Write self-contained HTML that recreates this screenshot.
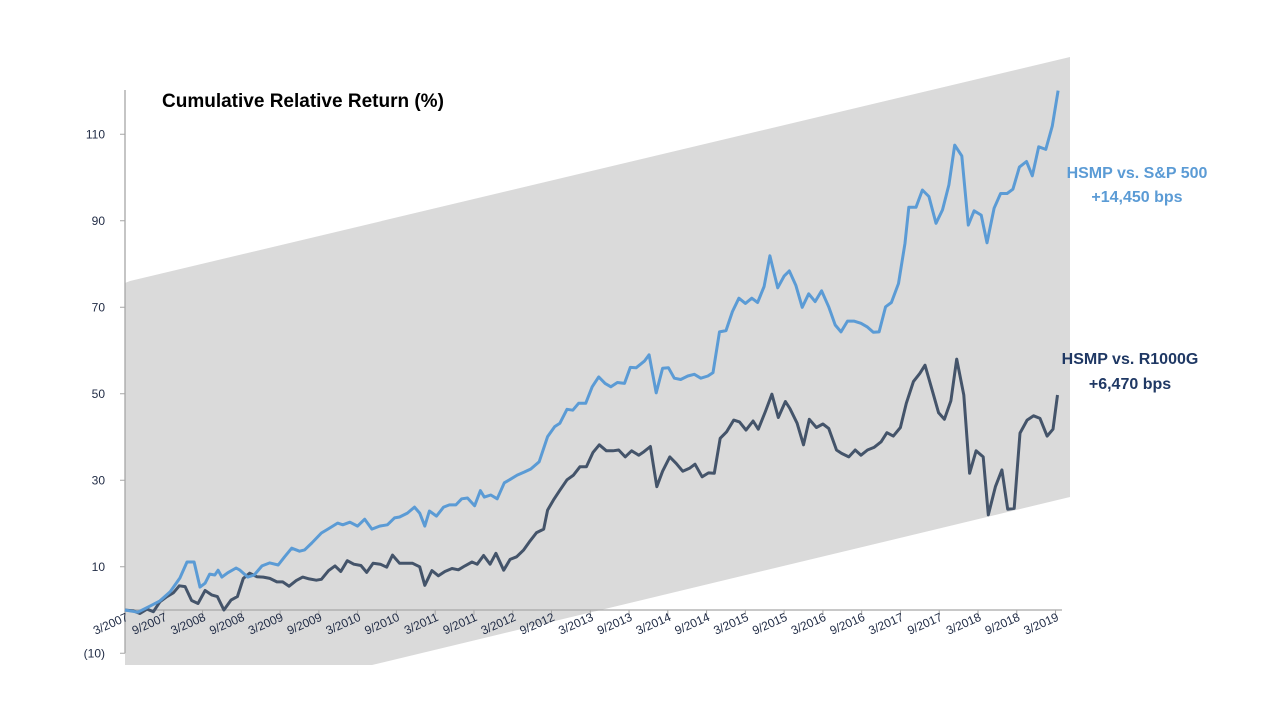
<!DOCTYPE html>
<html><head><meta charset="utf-8"><style>
html,body{margin:0;padding:0;background:#fff;width:1280px;height:720px;overflow:hidden}
svg text{font-family:"Liberation Sans",sans-serif}
</style></head><body>
<svg id="chart" width="1280" height="720" viewBox="0 0 1280 720" xmlns="http://www.w3.org/2000/svg">
<polygon points="130,281 1070,57 1070,497 372,665 125,665 125,283" fill="#dadada"/>
<g id="axes"></g>
<g id="series"></g>
<text x="162" y="107" font-size="19" font-weight="bold" fill="#000">Cumulative Relative Return (%)</text>
<text x="1137" y="178" font-size="16" font-weight="bold" fill="#5b9bd5" text-anchor="middle">HSMP vs. S&amp;P 500</text>
<text x="1137" y="202" font-size="16" font-weight="bold" fill="#5b9bd5" text-anchor="middle">+14,450 bps</text>
<text x="1130" y="364" font-size="16" font-weight="bold" fill="#1f3864" text-anchor="middle">HSMP vs. R1000G</text>
<text x="1130" y="389" font-size="16" font-weight="bold" fill="#1f3864" text-anchor="middle">+6,470 bps</text>
</svg>
<script>
const yTicks = [110, 90, 70, 50, 30, 10, -10];
const xTickLabels = ["3/2007","9/2007","3/2008","9/2008","3/2009","9/2009","3/2010","9/2010","3/2011","9/2011","3/2012","9/2012","3/2013","9/2013","3/2014","9/2014","3/2015","9/2015","3/2016","9/2016","3/2017","9/2017","3/2018","9/2018","3/2019"];
const spMonths = [0,2,4,5.4,7,8.5,9.6,10.7,11.6,12.4,13.1,13.9,14.4,15,15.9,17.2,17.8,19,20,21.2,22.4,23.7,24.7,25.8,27,27.8,28.9,30.4,31.4,32.9,33.7,34.8,36,37.1,38.2,39.4,40.6,41.7,42.5,43.7,44.8,45.6,46.4,47.1,48.2,49.3,50.2,51.2,52.1,53,54.1,55,55.6,56.6,57.6,58.7,59.5,60.7,61.8,62.8,64.1,65.4,66.5,67.3,68.4,69.3,70.2,71.3,72.3,73.3,74.3,75.2,76.2,77.3,78.2,79.1,80.4,81.1,82.2,83.2,84.1,85,86,87.1,88.1,89.1,90.2,91,92,93,94,95,96,97,97.9,98.9,99.8,101,102,102.8,103.8,104.8,105.8,106.8,107.8,108.9,109.9,110.8,111.8,112.8,113.9,114.9,115.8,116.7,117.7,118.6,119.7,120.7,121.3,122.4,123.4,124.4,125.5,126.5,127.5,128.4,129.5,130.5,131.4,132.5,133.4,134.5,135.5,136.5,137.4,138.4,139.5,140.4,141.4,142.5,143.5,144.4,145];
const spValues = [0,-0.5,1,2.1,4.2,7.4,11.1,11.1,5.3,6.2,8.3,8.1,9.2,7.6,8.6,9.7,9.2,7.6,8.1,10.2,10.9,10.4,12.3,14.3,13.6,13.9,15.5,17.8,18.7,20.1,19.7,20.3,19.4,21,18.7,19.4,19.7,21.3,21.5,22.4,23.8,22.4,19.4,22.9,21.7,23.8,24.3,24.3,25.7,25.9,24.1,27.6,26.1,26.6,25.7,29.4,30.1,31.2,31.9,32.6,34.3,40.1,42.4,43.2,46.4,46.2,47.8,47.8,51.6,53.9,52.4,51.6,52.6,52.4,56.1,56,57.6,59,50.2,55.9,56,53.6,53.3,54.1,54.5,53.6,54.1,54.9,64.3,64.6,69,72.1,70.9,72.1,71.1,74.8,81.9,74.5,77.2,78.4,75.1,70,73.1,71.3,73.8,70.1,65.9,64.3,66.8,66.8,66.3,65.4,64.2,64.3,70.1,71.1,75.5,84.8,93.1,93.1,97.1,95.6,89.4,92.5,98.3,107.5,105,89,92.3,91.3,84.9,92.9,96.3,96.3,97.3,102.4,103.7,100.4,107.1,106.5,111.9,120.1];
const rgMonths = [0,1.3,2.3,3.4,4.4,5.4,6.5,7.5,8.4,9.3,10.3,11.3,12.4,13.4,14.3,15.3,16.4,17.4,18.3,19.3,20.4,21.4,22.4,23.5,24.4,25.4,26.5,27.5,28.5,29.6,30.4,31.5,32.5,33.4,34.4,35.4,36.5,37.4,38.4,39.5,40.5,41.4,42.5,43.5,44.5,45.6,46.4,47.5,48.5,49.5,50.6,51.6,52.6,53.7,54.5,55.5,56.5,57.4,58.6,59.6,60.6,61.7,62.7,63.7,64.8,65.4,66.3,67.3,68.4,69.4,70.4,71.4,72.4,73.4,74.5,75.5,76.4,77.4,78.4,79.5,80.3,81.3,82.3,83.2,84.3,85.3,86.3,87.4,88.2,89.3,90.3,91.2,92.1,93.1,94.2,95.1,96.1,97.2,98,99.1,100.1,101.1,102.2,102.9,104,105,105.9,107,108,108.9,110.1,110.9,112,113,113.9,114.9,115.9,117,117.9,118.9,120,120.9,122,123,123.8,124.9,125.9,126.8,127.8,128.7,129.8,130.7,131.7,132.8,133.6,134.7,135.7,136.6,137.6,138.5,139.6,140.6,141.6,142.7,143.6,144.3];
const rgValues = [0,-0.2,-0.8,0.2,-0.4,1.9,3.1,4,5.6,5.4,2.2,1.5,4.5,3.5,3.1,0,2.3,3.1,7.3,8.5,7.7,7.6,7.3,6.5,6.5,5.5,6.8,7.6,7.2,6.9,7.1,9.1,10.2,8.9,11.4,10.6,10.3,8.7,10.8,10.6,9.9,12.7,10.8,10.8,10.8,10,5.7,9.1,7.9,8.9,9.6,9.3,10.2,11.1,10.6,12.6,10.6,13.1,9.2,11.7,12.3,13.9,16,17.9,18.7,23.1,25.4,27.7,30.1,31.2,33.1,33.1,36.4,38.2,36.8,36.8,37,35.4,36.8,35.8,36.6,37.8,28.5,32.1,35.4,33.9,32.1,32.8,33.7,30.8,31.7,31.6,39.7,41.2,43.9,43.5,41.6,43.7,41.8,45.9,49.9,44.5,48.2,46.6,43.2,38.2,44.1,42.2,43,42,37,36.2,35.4,37,35.8,37,37.6,38.9,41,40.2,42.2,47.8,52.8,54.7,56.6,50.9,45.6,44.1,48.4,58,49.7,31.6,36.8,35.4,22,28.5,32.4,23.3,23.5,40.9,43.9,44.9,44.3,40.2,41.8,49.7];

const NS = "http://www.w3.org/2000/svg";
const X0 = 125, XPM = 937/145, Y0 = 610, YPU = 4.325;
function xs(m){ return X0 + m*XPM; }
function ys(v){ return Y0 - v*YPU; }
function mk(tag, attrs, parent){ const e=document.createElementNS(NS,tag); for(const k in attrs) e.setAttribute(k,attrs[k]); parent.appendChild(e); return e; }
const axes = document.getElementById('axes');
const series = document.getElementById('series');

const yAxis = mk('line',{x1:X0,y1:90,x2:X0,y2:ys(-10),stroke:'#a6a6a6','stroke-width':1.3},axes);


const xAxis = mk('line',{x1:X0,y1:Y0,x2:xs(145),y2:Y0,stroke:'#a6a6a6','stroke-width':1.3},axes);



yTicks.forEach(v=>{
  const t = mk('line',{x1:X0-5,y1:ys(v),x2:X0,y2:ys(v),stroke:'#a6a6a6','stroke-width':1},axes);
  
  
  const l = mk('text',{x:105,y:ys(v)+4,'font-size':12,fill:'#1f2a44','text-anchor':'end'},axes);
  l.textContent = v<0 ? '('+(-v)+')' : String(v);
  
  
});
xTickLabels.forEach((lab,i)=>{
  const x = xs(i*6);
  const t = mk('line',{x1:x,y1:Y0,x2:x,y2:Y0+5,stroke:'#a6a6a6','stroke-width':1},axes);
  
  
  const l = mk('text',{x:x+4,y:Y0+10,'font-size':12,fill:'#1f2a44','text-anchor':'end',transform:'rotate(-24 '+(x+4)+' '+(Y0+10)+')'},axes);
  l.textContent = lab;
  
  
});
function line(ms, vs, color, name){
  const d = ms.map((m,i)=>(i?'L':'M')+xs(m).toFixed(1)+','+ys(vs[i]).toFixed(1)).join(' ');
  const p = mk('path',{d:d,fill:'none',stroke:color,'stroke-width':3,'stroke-linejoin':'round'},series);
  
  
}
line(rgMonths, rgValues, '#44546a', 'r1000g-line');
line(spMonths, spValues, '#5b9bd5', 'sp500-line');
</script>
</body></html>
